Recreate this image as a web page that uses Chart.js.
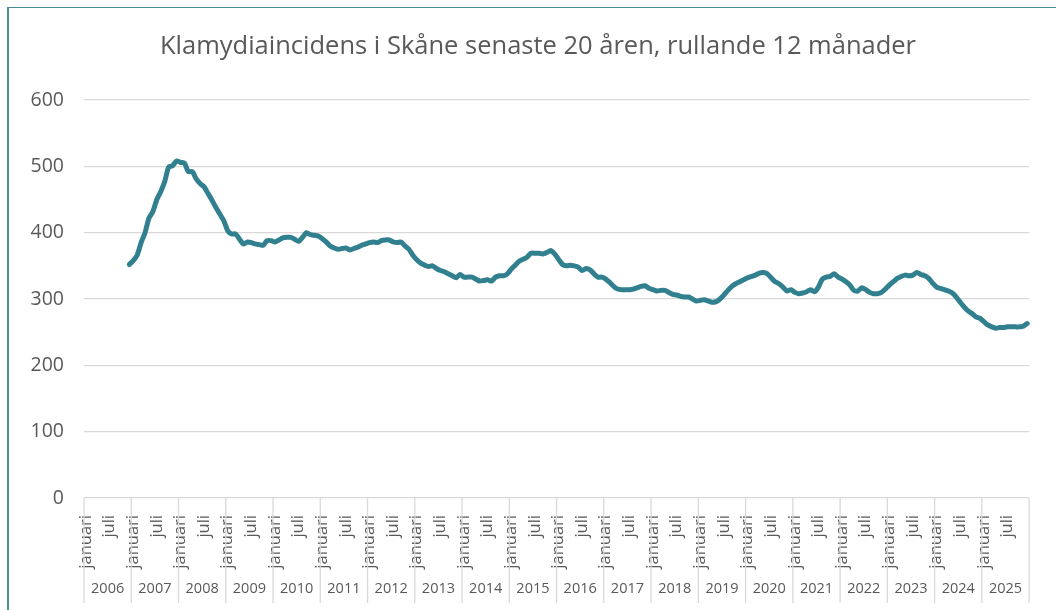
<!DOCTYPE html>
<html>
<head>
<meta charset="utf-8">
<script src="https://cdn.jsdelivr.net/npm/chart.js@4/dist/chart.umd.min.js"></script>
<style>
  html, body { margin: 0; padding: 0; background: #fff; }
  #wrap { position: relative; width: 1056px; height: 610px; }
  #frame {
    position: absolute; left: 7px; top: 7px; width: 1060px; height: 620px;
    border-left: 2px solid #4a8c99; border-top: 1px solid #4a8c99;
    pointer-events: none;
  }
</style>
</head>
<body>
<div id="wrap">
  <canvas id="chart" width="1056" height="610"></canvas>
  <div id="frame"></div>
</div>
<script>
// rullande 12 månader, incidens per 100 000
const chartTitle = "Klamydiaincidens i Skåne senaste 20 åren, rullande 12 månader";
const years = [2006, 2007, 2008, 2009, 2010, 2011, 2012, 2013, 2014, 2015,
               2016, 2017, 2018, 2019, 2020, 2021, 2022, 2023, 2024, 2025];
const tickLabels = { 0: "januari", 6: "juli" };

const inc2006 = [null, null, null, null, null, null, null, null, null, null, null, 352];
const inc2007 = [358, 366, 385, 400, 422, 432, 450, 462, 477, 499, 501, 508];
const inc2008 = [506, 505, 492, 492, 481, 474, 469, 459, 449, 438, 428, 418];
const inc2009 = [403, 398, 398, 390, 383, 386, 385, 383, 382, 381, 388, 388];
const inc2010 = [386, 389, 392, 393, 393, 390, 387, 393, 400, 397, 396, 395];
const inc2011 = [391, 386, 380, 377, 375, 376, 377, 374, 376, 378, 381, 383];
const inc2012 = [385, 386, 385, 388, 389, 389, 386, 385, 386, 380, 375, 366];
const inc2013 = [359, 354, 351, 349, 350, 346, 343, 341, 338, 335, 332, 337];
const inc2014 = [333, 333, 333, 330, 327, 328, 329, 327, 333, 335, 335, 338];
const inc2015 = [345, 351, 357, 360, 363, 369, 369, 369, 368, 370, 373, 368];
const inc2016 = [360, 352, 350, 351, 350, 348, 343, 346, 344, 338, 333, 333];
const inc2017 = [330, 325, 319, 315, 314, 314, 314, 315, 317, 319, 320, 316];
const inc2018 = [314, 312, 313, 313, 310, 307, 306, 304, 303, 303, 300, 297];
const inc2019 = [298, 299, 297, 295, 296, 300, 306, 313, 319, 323, 326, 329];
const inc2020 = [332, 334, 336, 339, 340, 338, 332, 326, 323, 318, 312, 314];
const inc2021 = [310, 308, 309, 311, 314, 311, 318, 330, 333, 334, 338, 333];
const inc2022 = [330, 326, 321, 313, 312, 317, 314, 310, 308, 308, 310, 315];
const inc2023 = [321, 326, 331, 334, 336, 335, 336, 340, 337, 335, 331, 324];
const inc2024 = [318, 316, 314, 312, 309, 303, 295, 288, 282, 278, 273, 271];
const inc2025 = [266, 261, 258, 256, 257, 257, 258, 258, 258, 258, 259, 263];

const values = [].concat(inc2006, inc2007, inc2008, inc2009, inc2010, inc2011, inc2012,
  inc2013, inc2014, inc2015, inc2016, inc2017, inc2018, inc2019, inc2020, inc2021,
  inc2022, inc2023, inc2024, inc2025);

const labels = [];
years.forEach(y => { for (let m = 0; m < 12; m++) labels.push(y + "-" + (m + 1)); });

const textColor = "#595959";
const gridColor = "#d9d9d9";
const fontFam = "'Open Sans', 'Noto Sans', sans-serif";

// rubrik + årsrad under månadsetiketterna, med avgränsare
const yearRow = {
  id: "yearRow",
  afterDraw(chart) {
    const xs = chart.scales.x;
    const ctx = chart.ctx;
    const w = xs.getPixelForValue(1) - xs.getPixelForValue(0);
    const top = chart.chartArea.bottom;
    ctx.save();
    ctx.fillStyle = textColor;
    ctx.textAlign = "center";
    ctx.textBaseline = "middle";
    ctx.font = "25.5px " + fontFam;
    ctx.fillText(chartTitle, 538, 47);

    ctx.strokeStyle = gridColor;
    ctx.lineWidth = 1.3;
    ctx.font = "14.5px " + fontFam;
    years.forEach((yr, k) => {
      const left = xs.getPixelForValue(k * 12) - w / 2;
      ctx.beginPath();
      ctx.moveTo(left, top);
      ctx.lineTo(left, 603);
      ctx.stroke();
      ctx.fillText(String(yr), left + 6 * w, 589);
    });
    const right = xs.getPixelForValue(values.length - 1) + w / 2;
    ctx.beginPath();
    ctx.moveTo(right, top);
    ctx.lineTo(right, 603);
    ctx.stroke();
    ctx.restore();
  }
};

new Chart(document.getElementById("chart"), {
  type: "line",
  data: {
    labels: labels,
    datasets: [{
      data: values,
      borderColor: "#31808f",
      borderWidth: 5,
      pointRadius: 0,
      tension: 0.25,
      borderCapStyle: "round",
      borderJoinStyle: "round"
    }]
  },
  options: {
    responsive: false,
    animation: false,
    layout: { padding: { left: 0, right: 18, top: 100, bottom: 0 } },
    plugins: {
      legend: { display: false },
      tooltip: { enabled: false },
      title: { display: false }
    },
    scales: {
      x: {
        type: "category",
        offset: true,
        grid: { display: false },
        border: { display: false },
        ticks: {
          autoSkip: false,
          minRotation: 90,
          maxRotation: 90,
          padding: 9,
          color: textColor,
          font: { family: fontFam, size: 16.5 },
          callback: (v, i) => tickLabels[i % 12] || ""
        },
        afterFit: s => { s.height = 112; }
      },
      y: {
        min: 0,
        max: 600,
        ticks: {
          stepSize: 100,
          padding: 20,
          color: textColor,
          font: { family: fontFam, size: 19.5 }
        },
        grid: { color: gridColor, lineWidth: 1.3, drawTicks: false },
        border: { display: false },
        afterFit: s => { s.width = 84; }
      }
    }
  },
  plugins: [yearRow]
});
</script>
</body>
</html>
